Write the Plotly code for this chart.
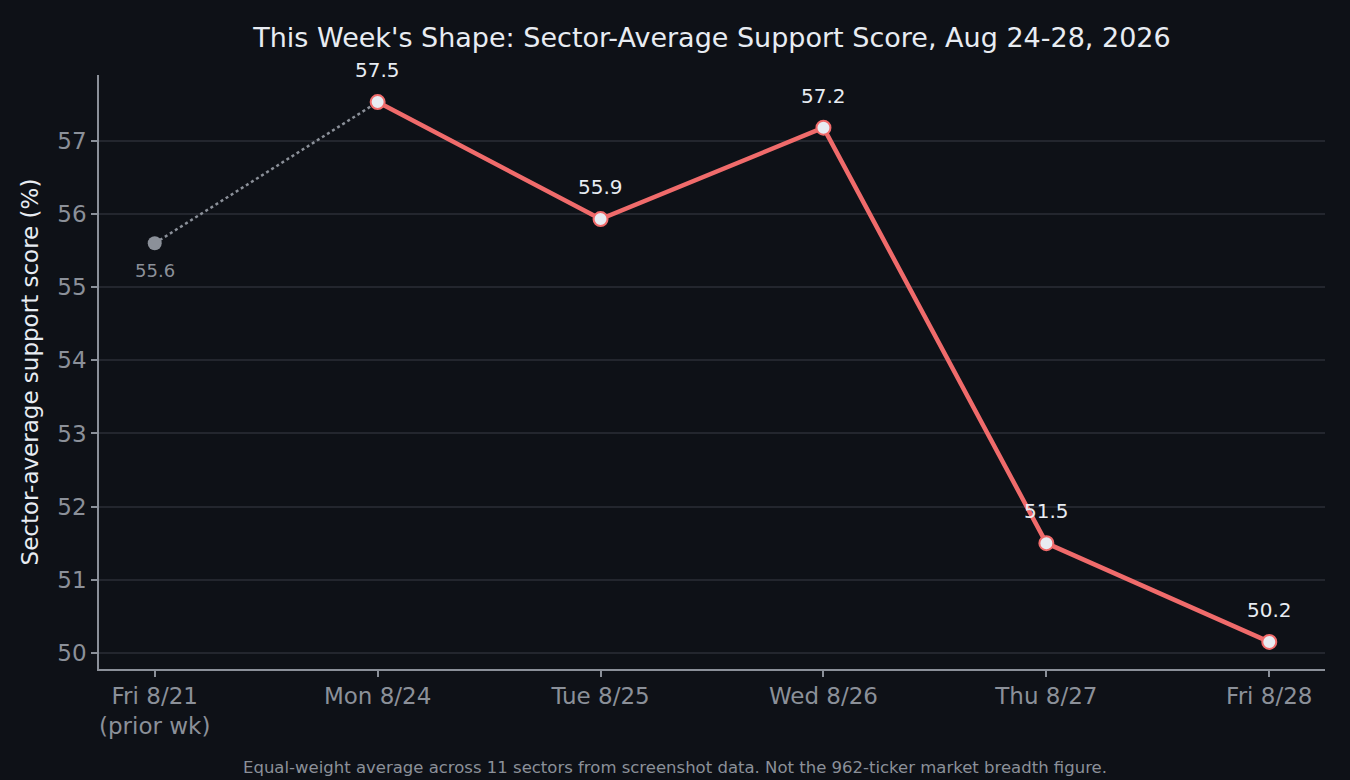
import plotly.graph_objects as go

days = ["Fri 8/21<br>(prior wk)", "Mon 8/24", "Tue 8/25", "Wed 8/26", "Thu 8/27", "Fri 8/28"]
prior_value = 55.6
week_values = [57.53, 55.93, 57.18, 51.50, 50.15]
week_labels = ["57.5", "55.9", "57.2", "51.5", "50.2"]
y_ticks = [50, 51, 52, 53, 54, 55, 56, 57]

BG = "#0e1117"
RED = "#f06b6b"
GRAY = "#8b9099"
LIGHT = "#e8ecf2"
GRID = "#23262e"
FONT = "DejaVu Sans"

xs = list(range(len(days)))
wx = xs[1:]

fig = go.Figure()
fig.add_trace(go.Scatter(x=[xs[0], wx[0]], y=[prior_value, week_values[0]], mode="lines",
                         line=dict(color=GRAY, width=2.5, dash="dot"), hoverinfo="skip", showlegend=False))
fig.add_trace(go.Scatter(x=[xs[0]], y=[prior_value], mode="markers",
                         marker=dict(color=GRAY, size=14, line=dict(width=0)), showlegend=False))
fig.add_trace(go.Scatter(x=wx, y=week_values, mode="lines+markers",
                         line=dict(color=RED, width=4.5),
                         marker=dict(color=LIGHT, size=14, line=dict(color=RED, width=2)),
                         showlegend=False))

for x, y, t in zip(wx, week_values, week_labels):
    fig.add_annotation(x=x, y=y, text=t, showarrow=False, yshift=32,
                       font=dict(family=FONT, size=20, color=LIGHT))
fig.add_annotation(x=xs[0], y=prior_value, text=f"{prior_value:.1f}", showarrow=False, yshift=-27,
                   font=dict(family=FONT, size=18, color=GRAY))

fig.add_annotation(x=0.4698, y=-0.165, xref="paper", yref="paper", showarrow=False,
                   text="Equal-weight average across 11 sectors from screenshot data. Not the 962-ticker market breadth figure.",
                   font=dict(family=FONT, size=16.5, color=GRAY), xanchor="center", yanchor="middle")

fig.update_layout(
    width=1350, height=780,
    paper_bgcolor=BG, plot_bgcolor=BG,
    margin=dict(l=99, r=25, t=75, b=111),
    title=dict(text="This Week's Shape: Sector-Average Support Score, Aug 24-28, 2026",
               xref="paper", x=0.5, xanchor="center", y=0.952, yanchor="middle",
               font=dict(family=FONT, size=27, color=LIGHT)),
    font=dict(family=FONT, color=GRAY),
    xaxis=dict(range=[-0.25, 5.25], tickmode="array", tickvals=xs, ticktext=days,
               showgrid=False, zeroline=False, showline=True, linecolor=GRAY, linewidth=1.5,
               ticks="outside", ticklen=6, tickcolor=GRAY, tickwidth=1.5,
               tickfont=dict(family=FONT, size=23, color=GRAY)),
    yaxis=dict(range=[49.78, 57.9], tickmode="array", tickvals=y_ticks,
               showgrid=True, gridcolor=GRID, gridwidth=1.5, zeroline=False,
               showline=True, linecolor=GRAY, linewidth=1.5,
               ticks="outside", ticklen=6, tickcolor=GRAY, tickwidth=1.5,
               tickfont=dict(family=FONT, size=23, color=GRAY),
               title=dict(text="Sector-average support score (%)", standoff=12,
                          font=dict(family=FONT, size=23, color=LIGHT))),
)

fig.write_html("out.html", config={"displayModeBar": False},
               post_script="document.body.style.margin='0';document.body.style.background='#0e1117';")
